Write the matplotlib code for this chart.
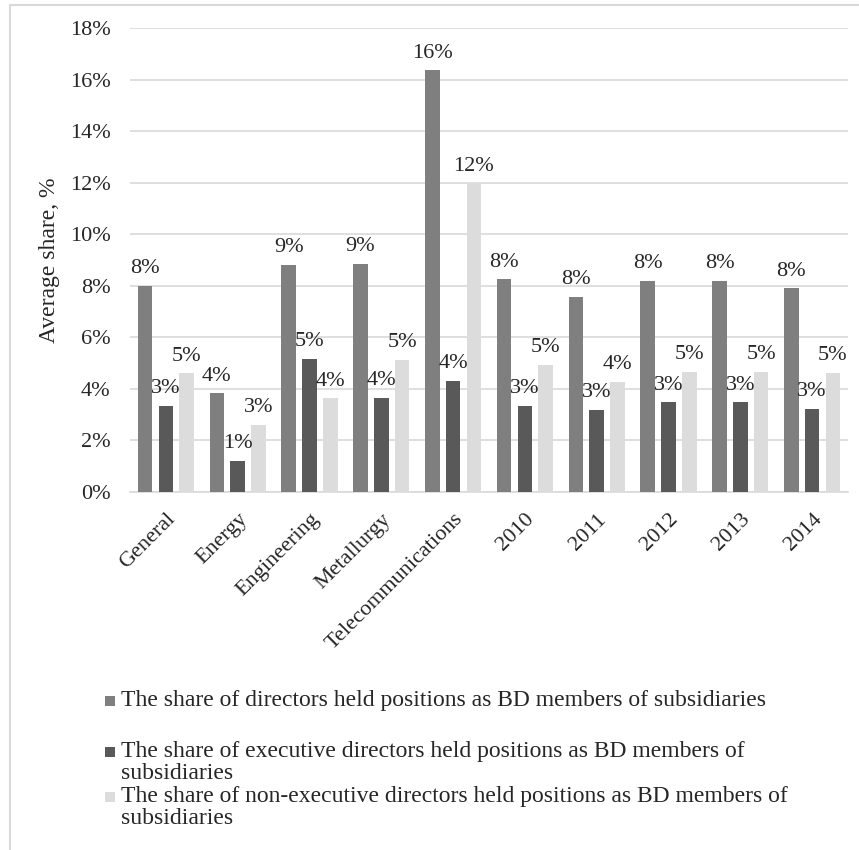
import matplotlib
matplotlib.use("Agg")
import matplotlib.pyplot as plt
from matplotlib.patches import Rectangle
import numpy as np

categories = ["General", "Energy", "Engineering", "Metallurgy", "Telecommunications",
              "2010", "2011", "2012", "2013", "2014"]
all_directors = [8.00, 3.82, 8.81, 8.86, 16.37, 8.25, 7.56, 8.19, 8.19, 7.90]
executive = [3.33, 1.19, 5.17, 3.64, 4.31, 3.33, 3.17, 3.47, 3.47, 3.22]
non_executive = [4.60, 2.59, 3.63, 5.12, 11.97, 4.92, 4.27, 4.66, 4.66, 4.62]
series_names = [
    "The share of directors held positions as BD members of subsidiaries",
    "The share of executive directors held positions as BD members of\nsubsidiaries",
    "The share of non-executive directors held positions as BD members of\nsubsidiaries",
]
yticks = [0, 2, 4, 6, 8, 10, 12, 14, 16, 18]

colors = ["#7f7f7f", "#595959", "#dcdcdc"]
plt.rcParams["font.family"] = ["Liberation Serif", "DejaVu Serif"]
text_color = "#262626"

W, H = 859, 850
fig = plt.figure(figsize=(W / 100, H / 100), dpi=100)
ax = fig.add_axes([130 / W, 1 - 491.7 / H, (848 - 130) / W, (491.7 - 28.3) / H])

x = np.arange(len(categories))
bw = 0.205
step = 0.29
series = [all_directors, executive, non_executive]
for i, vals in enumerate(series):
    pos = x + (i - 1) * step
    ax.bar(pos, vals, width=bw, color=colors[i], zorder=3)
    for px, v in zip(pos, vals):
        ax.text(px, v + 0.3, f"{round(v):d}%", ha="center", va="bottom",
                fontsize=16, color=text_color, zorder=4)

ax.set_xlim(-0.5, len(categories) - 0.5)
ax.set_ylim(0, 18)
ax.set_yticks(yticks)
ax.set_yticklabels([f"{t}%" for t in yticks], fontsize=16, color=text_color)
ax.yaxis.grid(True, color="#d9d9d9", linewidth=1.2, zorder=0)
ax.set_axisbelow(True)
for s in ["top", "right", "left"]:
    ax.spines[s].set_visible(False)
ax.spines["bottom"].set_color("#d9d9d9")
ax.spines["bottom"].set_linewidth(1.2)
ax.tick_params(axis="y", length=0, pad=14)
ax.tick_params(axis="x", length=0, pad=13)
ax.set_xticks(x)
ax.set_xticklabels(categories, rotation=45, ha="right", rotation_mode="anchor",
                   fontsize=16, color=text_color)

ax.set_ylabel("Average share, %", fontsize=17, color=text_color, va="center")
ax.yaxis.set_label_coords((50 - 130) / 718, 0.5)

# legend drawn as swatches and text blocks
first_baselines = [707, 758, 803]
for c, name, yb in zip(colors, series_names, first_baselines):
    fig.patches.append(Rectangle((105 / W, 1 - (yb - 1) / H), 10 / W, 10 / H,
                                 transform=fig.transFigure, facecolor=c,
                                 edgecolor="none"))
    fig.text(121 / W, 1 - (yb - 17) / H, name, ha="left", va="top",
             fontsize=17, color=text_color, linespacing=1.08)

fig.patches.append(Rectangle((10 / W, -0.1), 1.2, 1 - 5 / H + 0.1,
                             transform=fig.transFigure, fill=False,
                             edgecolor="#d9d9d9", linewidth=1.5))

fig.savefig("out.png", dpi=100)
